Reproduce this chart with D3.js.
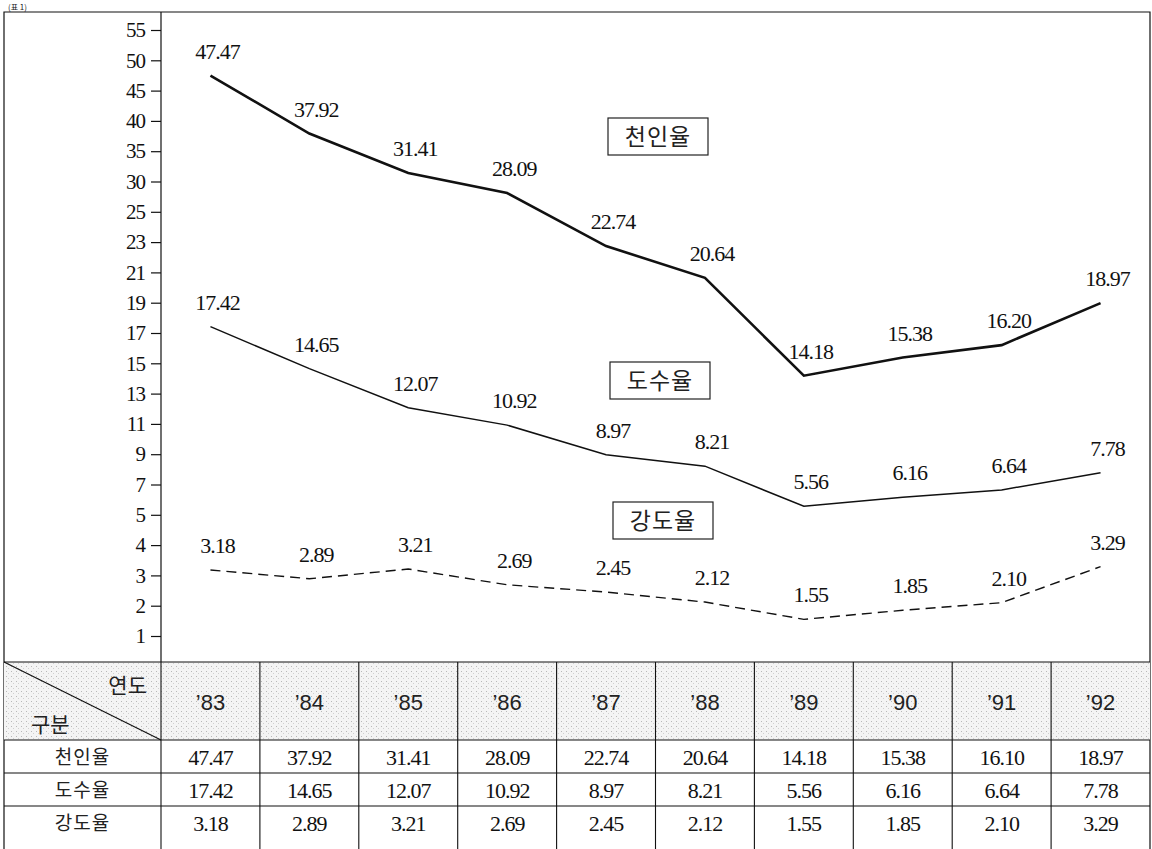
<!DOCTYPE html>
<html>
<head>
<meta charset="utf-8">
<script src="https://cdn.jsdelivr.net/npm/d3@7"></script>
<style>
  body { margin: 0; background: #fff; }
  .num { font-family: "Liberation Serif", "DejaVu Serif", serif; }
  .kr { font-family: "Noto Sans CJK KR", sans-serif; }
  .yr { font-family: "Liberation Sans", "DejaVu Sans", sans-serif; }
</style>
</head>
<body>
<script>
// data
var years = ["'83", "'84", "'85", "'86", "'87", "'88", "'89", "'90", "'91", "'92"];
var cheonin = [47.47, 37.92, 31.41, 28.09, 22.74, 20.64, 14.18, 15.38, 16.20, 18.97];
var dosu = [17.42, 14.65, 12.07, 10.92, 8.97, 8.21, 5.56, 6.16, 6.64, 7.78];
var gangdo = [3.18, 2.89, 3.21, 2.69, 2.45, 2.12, 1.55, 1.85, 2.10, 3.29];
// table in the picture prints '91 천인율 as 16.10
var tableCheonin = ["47.47", "37.92", "31.41", "28.09", "22.74", "20.64", "14.18", "15.38", "16.10", "18.97"];
var rowNames = ["천인율", "도수율", "강도율"];
var yTicks = [1, 2, 3, 4, 5, 7, 9, 11, 13, 15, 17, 19, 21, 23, 25, 30, 35, 40, 45, 50, 55];

var W = 1152, H = 849;
var boxL = 4, boxT = 12, boxR = 1150;
var axisX = 161, chartBottom = 662;
var headerH = 78, rowH = 33;

var svg = d3.select('body').append('svg')
  .attr('width', W).attr('height', H);

// stipple for header row
var defs = svg.append('defs');
var pat = defs.append('pattern').attr('id', 'dots')
  .attr('width', 5).attr('height', 5).attr('patternUnits', 'userSpaceOnUse');
pat.append('rect').attr('width', 5).attr('height', 5).attr('fill', '#f4f4f4');
pat.append('rect').attr('x', 1).attr('y', 1).attr('width', 1).attr('height', 1).attr('fill', '#b8b8b8');
pat.append('rect').attr('x', 3).attr('y', 3).attr('width', 1).attr('height', 1).attr('fill', '#d0d0d0');

// small title above the frame
svg.append('text').attr('class', 'kr').attr('x', 8).attr('y', 10)
  .attr('font-size', 8).attr('fill', '#222').text('(표 1)');

// scales
var x = d3.scaleBand().domain(years).range([axisX, boxR]);
var yRange = yTicks.map(function(d, i){ return 636 - i * (606 / (yTicks.length - 1)); });
var y = d3.scaleLinear().domain(yTicks).range(yRange);

// outer frame
svg.append('path')
  .attr('d', 'M' + boxL + ',' + H + 'V' + boxT + 'H' + boxR + 'V' + H)
  .attr('fill', 'none').attr('stroke', '#111').attr('stroke-width', 1.2);

// y axis
var yAxis = d3.axisLeft(y).tickValues(yTicks).tickSize(10).tickPadding(6).tickSizeOuter(0);
var gy = svg.append('g').attr('transform', 'translate(' + axisX + ',0)').call(yAxis);
gy.select('.domain').remove();
gy.selectAll('.tick line').attr('stroke', '#111').attr('stroke-width', 1.2);
gy.selectAll('.tick text').attr('class', 'num').attr('font-size', 21)
  .attr('letter-spacing', -1).attr('fill', '#111');
svg.append('line').attr('x1', axisX).attr('x2', axisX).attr('y1', boxT).attr('y2', chartBottom)
  .attr('stroke', '#111').attr('stroke-width', 1.2);

// lines
var cx = function(d, i){ return x(years[i]) + x.bandwidth() / 2; };
var line = d3.line().x(cx).y(function(d){ return y(d); });

var series = [
  { data: cheonin, width: 2.6, dash: null },
  { data: dosu, width: 1.5, dash: null },
  { data: gangdo, width: 1.4, dash: '10,6' }
];

series.forEach(function(s){
  svg.append('path').datum(s.data)
    .attr('d', line)
    .attr('fill', 'none').attr('stroke', '#111')
    .attr('stroke-width', s.width)
    .attr('stroke-dasharray', s.dash);

  svg.append('g').selectAll('text').data(s.data).enter().append('text')
    .attr('class', 'num')
    .attr('x', function(d, i){ return cx(d, i) + 7; })
    .attr('y', function(d){ return y(d) - 17; })
    .attr('text-anchor', 'middle').attr('font-size', 22).attr('fill', '#111')
    .attr('letter-spacing', -1)
    .text(function(d){ return d.toFixed(2); });
});

// series name boxes
var legends = [
  { name: '천인율', x: 658, y: 136 },
  { name: '도수율', x: 660, y: 380 },
  { name: '강도율', x: 663, y: 520 }
];
legends.forEach(function(l){
  svg.append('rect').attr('x', l.x - 50).attr('y', l.y - 18).attr('width', 100).attr('height', 37)
    .attr('fill', '#fff').attr('stroke', '#222').attr('stroke-width', 1.2);
  svg.append('text').attr('class', 'kr').attr('x', l.x).attr('y', l.y + 9)
    .attr('text-anchor', 'middle').attr('font-size', 23).attr('letter-spacing', 1)
    .attr('fill', '#222').text(l.name);
});

// table
var t = svg.append('g');
var rowTop = chartBottom + headerH;
t.append('rect').attr('x', boxL).attr('y', chartBottom).attr('width', boxR - boxL).attr('height', headerH)
  .attr('fill', 'url(#dots)');

// horizontal rules
[chartBottom, rowTop, rowTop + rowH, rowTop + 2 * rowH].forEach(function(yy){
  t.append('line').attr('x1', boxL).attr('x2', boxR).attr('y1', yy).attr('y2', yy)
    .attr('stroke', '#111').attr('stroke-width', 1.2);
});
// vertical rules
years.forEach(function(yr){
  t.append('line').attr('x1', x(yr)).attr('x2', x(yr)).attr('y1', chartBottom).attr('y2', H)
    .attr('stroke', '#111').attr('stroke-width', 1.1);
});
// diagonal header cell
t.append('line').attr('x1', boxL).attr('y1', chartBottom).attr('x2', axisX).attr('y2', rowTop)
  .attr('stroke', '#111').attr('stroke-width', 1.2);
t.append('text').attr('class', 'kr').attr('x', 147).attr('y', 693).attr('text-anchor', 'end')
  .attr('font-size', 21).attr('fill', '#222').text('연도');
t.append('text').attr('class', 'kr').attr('x', 31).attr('y', 732)
  .attr('font-size', 21).attr('fill', '#222').text('구분');

// year headers
t.selectAll('.yr').data(years).enter().append('text')
  .attr('class', 'yr')
  .attr('x', function(d){ return x(d) + x.bandwidth() / 2; })
  .attr('y', 710).attr('text-anchor', 'middle').attr('font-size', 22).attr('fill', '#222')
  .text(function(d){ return d.replace("'", '\u2019'); });

// row names and values
var rows = [
  tableCheonin,
  dosu.map(function(d){ return d.toFixed(2); }),
  gangdo.map(function(d){ return d.toFixed(2); })
];
rows.forEach(function(vals, r){
  var by = rowTop + r * rowH + 25;
  t.append('text').attr('class', 'kr').attr('x', (boxL + axisX) / 2).attr('y', by - 1)
    .attr('text-anchor', 'middle').attr('font-size', 19).attr('letter-spacing', 1)
    .attr('fill', '#222').text(rowNames[r]);
  t.selectAll('.v' + r).data(vals).enter().append('text')
    .attr('class', 'num')
    .attr('x', function(d, i){ return x(years[i]) + x.bandwidth() / 2; })
    .attr('y', by).attr('text-anchor', 'middle').attr('font-size', 22)
    .attr('letter-spacing', -1).attr('fill', '#111')
    .text(function(d){ return d; });
});
</script>
</body>
</html>
